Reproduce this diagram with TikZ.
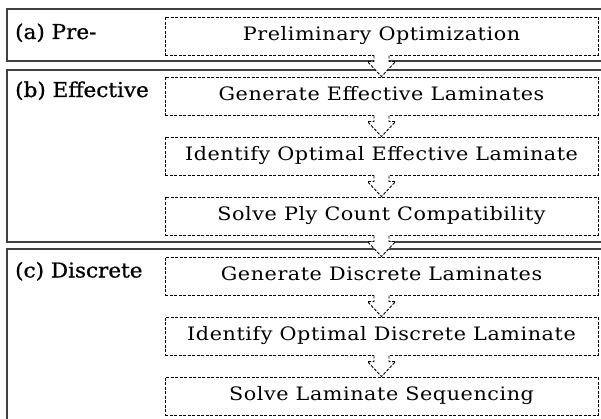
\documentclass[tikz,border=0pt]{standalone}
\usepackage{fontspec}
\setmainfont{DejaVu Serif}
\newfontfamily\boxfont{DejaVu Serif}[FakeStretch=1.12,LetterSpace=3]
\newfontfamily\labfont{DejaVu Serif}[FakeStretch=1.05,FakeBold=0.8]
\usetikzlibrary{calc}
\definecolor{framegray}{HTML}{404040}
\tikzset{
  stepbox/.style={draw=black, line width=0.9pt, dash pattern=on 3pt off 1.5pt,
    minimum width=433pt, minimum height=38pt, inner sep=0pt,
    text height=14pt, text depth=5pt, font=\boxfont\fontsize{18.5}{20}\selectfont},
  frame/.style={draw=framegray, line width=1.6pt},
  phase/.style={anchor=base west, inner sep=0pt, font=\labfont\fontsize{20.5}{22}\selectfont},
  arrowline/.style={draw=black, line width=0.9pt, dash pattern=on 3pt off 1.5pt},
}
\newcommand{\flowarrow}[2]{%
  \coordinate (s) at (#1.south);
  \coordinate (t) at (#2.north);
  \coordinate (h) at ($(t)+(0,-15)$);
  \fill[white] ($(s)+(-7.5,-1)$) -- ($(h-|s)+(-7.5,0)$) -- ($(h)+(-14,0)$) -- (t)
     -- ($(h)+(14,0)$) -- ($(h-|s)+(7.5,0)$) -- ($(s)+(7.5,-1)$) -- cycle;
  \draw[arrowline] ($(s)+(-7.5,0)$) -- ($(h-|s)+(-7.5,0)$) -- ($(h)+(-14,0)$) -- (t)
     -- ($(h)+(14,0)$) -- ($(h-|s)+(7.5,0)$) -- ($(s)+(7.5,0)$);
}
\begin{document}
\begin{tikzpicture}[x=1pt,y=-1pt]
\useasboundingbox (0,0) rectangle (601,419);
% frames
\draw[frame] (610,9) -- (7,9) -- (7,61) -- (610,61);
\draw[frame] (610,70) -- (7,70) -- (7,242) -- (610,242);
\draw[frame] (610,249) -- (7,249) -- (7,430);
% labels
\node[phase] (la) at (15,39) {(a) Pre-};
\node[phase] (lb) at (15,97) {(b) Effective};
\node[phase] (lc) at (15,277.5) {(c) Discrete};
% boxes
\node[stepbox] (p1) at (381.5,36) {Preliminary Optimization};
\node[stepbox] (p2) at (381.5,96) {Generate Effective Laminates};
\node[stepbox] (p3) at (381.5,156) {Identify Optimal Effective Laminate};
\node[stepbox] (p4) at (381.5,216) {Solve Ply Count Compatibility};
\node[stepbox] (p5) at (381.5,276) {Generate Discrete Laminates};
\node[stepbox] (p6) at (381.5,336) {Identify Optimal Discrete Laminate};
\node[stepbox] (p7) at (381.5,396) {Solve Laminate Sequencing};
% arrows
\flowarrow{p1}{p2}
\flowarrow{p2}{p3}
\flowarrow{p3}{p4}
\flowarrow{p4}{p5}
\flowarrow{p5}{p6}
\flowarrow{p6}{p7}
\end{tikzpicture}
\end{document}
